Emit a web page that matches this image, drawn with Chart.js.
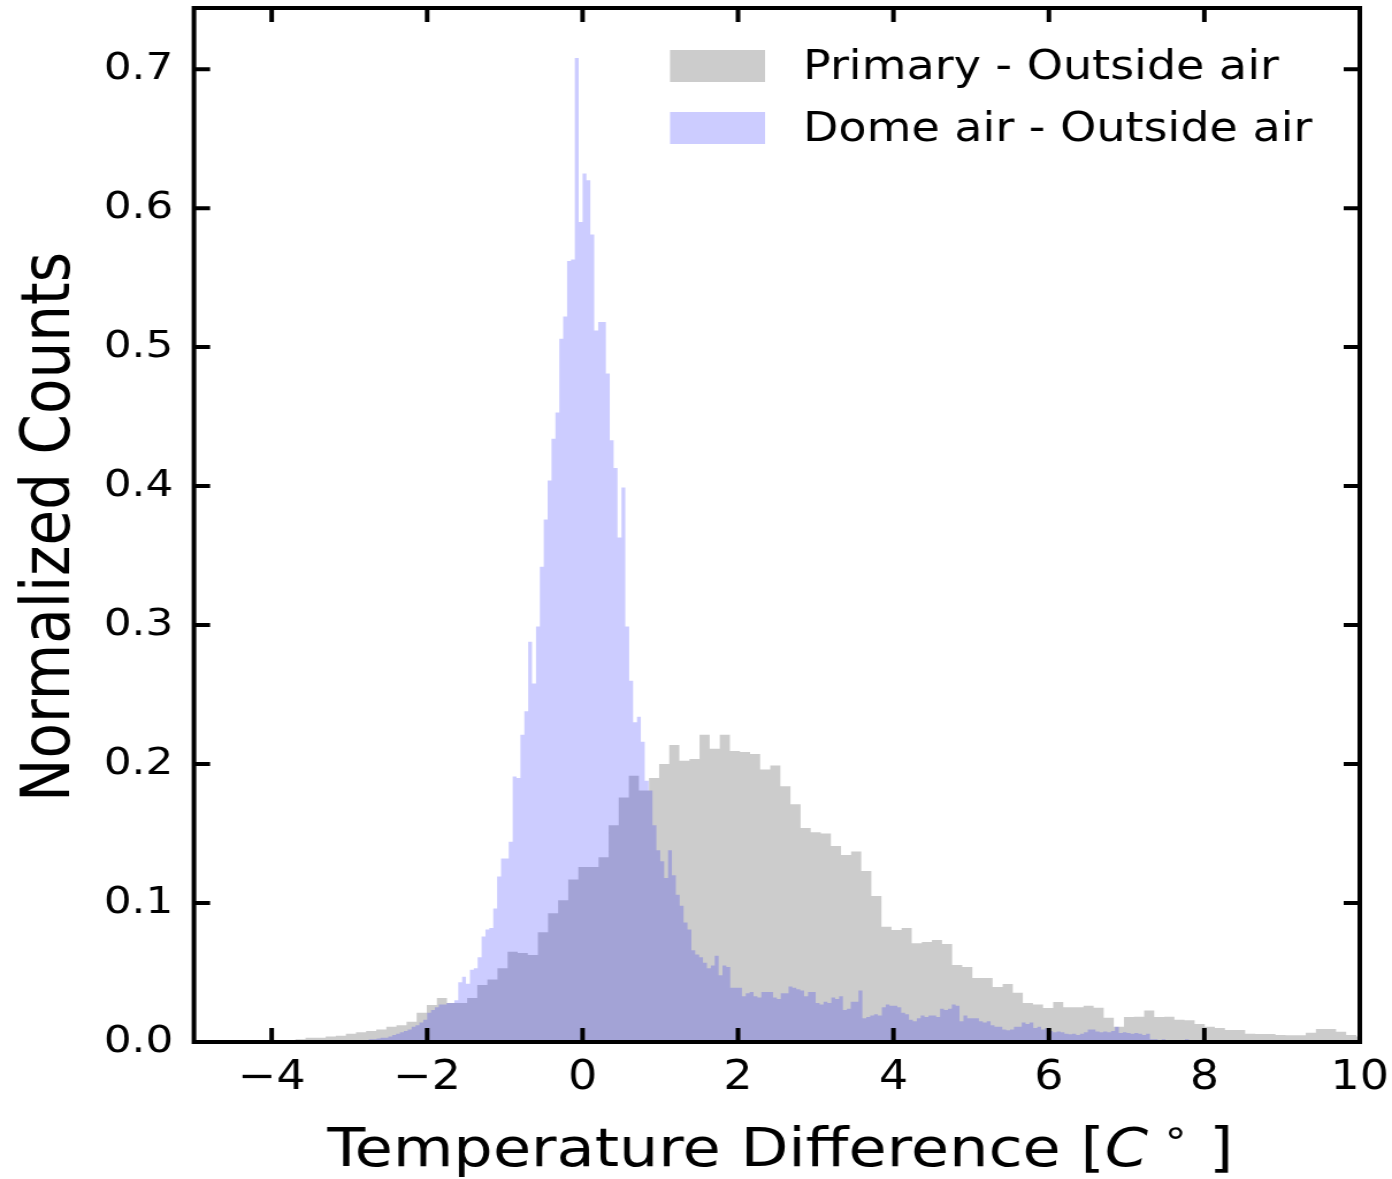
<!DOCTYPE html>
<html>
<head>
<meta charset="utf-8">
<title>Temperature difference histograms</title>
<script src="https://cdn.jsdelivr.net/npm/chart.js@4.4.1/dist/chart.umd.min.js"></script>
<style>
  html, body { margin: 0; padding: 0; background: #fff; overflow: hidden; }
  /* the source figure is stretched horizontally, so the canvas is too */
  #wrap { width: 1210px; height: 1179px; transform: scaleX(1.15041); transform-origin: 0 0; }
</style>
</head>
<body>
<div id="wrap"><canvas id="chart" width="1210" height="1179"></canvas></div>
<script>
// ── Data ──────────────────────────────────────────────────────────────────────
const seriesNames = ['Primary - Outside air', 'Dome air - Outside air'];

// Primary - Outside air: bins of 0.13 starting at -3.825
const GRAY_START = -3.825, GRAY_BIN = 0.13;
const grayCounts = [
  0.001, 0.002, 0.003, 0.003, 0.004, 0.0045, 0.006, 0.007, 0.008, 0.009,
  0.011, 0.012, 0.0146, 0.021, 0.0266, 0.0317, 0.028, 0.028, 0.0317, 0.041,
  0.045, 0.053, 0.065, 0.064, 0.0626, 0.079, 0.0926, 0.102, 0.117, 0.126,
  0.126, 0.133, 0.156, 0.176, 0.1916, 0.181, 0.19, 0.2, 0.2137, 0.2024,
  0.2036, 0.221, 0.211, 0.221, 0.2094, 0.2086, 0.2072, 0.196, 0.199, 0.184,
  0.171, 0.154, 0.151, 0.150, 0.141, 0.1345, 0.137, 0.123, 0.105, 0.083,
  0.0806, 0.082, 0.071, 0.072, 0.0734, 0.0705, 0.0554, 0.054, 0.046, 0.046,
  0.0396, 0.0417, 0.0355, 0.028, 0.027, 0.0245, 0.0288, 0.025, 0.025, 0.026,
  0.0247, 0.0175, 0.011, 0.018, 0.0182, 0.0226, 0.018, 0.0182, 0.016, 0.0156,
  0.013, 0.011, 0.010, 0.0086, 0.0086, 0.006, 0.0058, 0.0058, 0.005, 0.0048,
  0.0048, 0.0067, 0.0094, 0.0094, 0.0074, 0.005, 0.004,
];

// Dome air - Outside air: bins of 0.05 starting at -3.0
const BLUE_START = -3.0, BLUE_BIN = 0.05;
const blueCounts = [
  0.0005, 0.0008, 0.001, 0.001, 0.0015, 0.002, 0.002, 0.0025, 0.003, 0.003,
  0.004, 0.005, 0.006, 0.007, 0.008, 0.009, 0.011, 0.012, 0.014, 0.016,
  0.021, 0.023, 0.025, 0.027, 0.027, 0.028, 0.028, 0.030, 0.043, 0.047,
  0.042, 0.052, 0.053, 0.061, 0.076, 0.081, 0.082, 0.096, 0.119, 0.132,
  0.132, 0.144, 0.191, 0.19, 0.221, 0.238, 0.288, 0.258, 0.299, 0.342,
  0.376, 0.404, 0.434, 0.453, 0.506, 0.522, 0.562, 0.563, 0.708, 0.59,
  0.625, 0.62, 0.581, 0.512, 0.518, 0.518, 0.481, 0.433, 0.413, 0.363,
  0.399, 0.299, 0.26, 0.23, 0.234, 0.216, 0.188, 0.181, 0.156, 0.138,
  0.13, 0.118, 0.138, 0.12, 0.106, 0.098, 0.086, 0.081, 0.066, 0.063,
  0.061, 0.057, 0.053, 0.055, 0.062, 0.048, 0.055, 0.054, 0.039, 0.039,
  0.039, 0.033, 0.035, 0.036, 0.033, 0.032, 0.036, 0.036, 0.036, 0.032,
  0.031, 0.035, 0.035, 0.040, 0.039, 0.038, 0.037, 0.033, 0.036, 0.036,
  0.028, 0.027, 0.029, 0.028, 0.032, 0.031, 0.033, 0.023, 0.024, 0.029,
  0.029, 0.037, 0.017, 0.018, 0.019, 0.020, 0.019, 0.025, 0.027, 0.026,
  0.026, 0.025, 0.021, 0.020, 0.016, 0.015, 0.017, 0.019, 0.018, 0.019,
  0.019, 0.018, 0.024, 0.023, 0.024, 0.027, 0.026, 0.015, 0.019, 0.017,
  0.017, 0.017, 0.015, 0.014, 0.015, 0.012, 0.011, 0.011, 0.009, 0.0085,
  0.009, 0.011, 0.011, 0.014, 0.013, 0.014, 0.010, 0.011, 0.009, 0.010,
  0.008, 0.007, 0.0075, 0.007, 0.006, 0.0055, 0.006, 0.005, 0.006, 0.007,
  0.009, 0.009, 0.0075, 0.007, 0.0075, 0.007, 0.008, 0.011, 0.0065, 0.007,
  0.0065, 0.006, 0.0065, 0.006, 0.005, 0.006, 0.002, 0.002, 0.0015, 0.002,
  0.0015, 0.001, 0.0015, 0.001, 0.001, 0.002, 0.001, 0.0005, 0.0005, 0.0005,
];

const xTicks      = [-4, -2, 0, 2, 4, 6, 8, 10];
const xTickLabels = ['\u22124', '\u22122', '0', '2', '4', '6', '8', '10'];
const yTicks      = [0, 0.1, 0.2, 0.3, 0.4, 0.5, 0.6, 0.7];
const yTickLabels = ['0.0', '0.1', '0.2', '0.3', '0.4', '0.5', '0.6', '0.7'];

const GRAY = 'rgba(128,128,128,0.4)';
const BLUE = 'rgba(0,0,255,0.2)';
const FONT = 'DejaVu Sans';

// histogram bins -> stepped outline (left edge of each bin, then close at the right edge)
function toSteps(start, bin, counts) {
  const pts = counts.map((c, i) => ({ x: start + i * bin, y: c }));
  pts.push({ x: start + counts.length * bin, y: 0 });
  return pts;
}

// ── Frame, inward ticks, titles, legend ───────────────────────────────────────
const decor = {
  id: 'decor',
  afterDraw(chart) {
    const { ctx, chartArea: a, scales: { x, y } } = chart;
    const TICK = 14;
    ctx.save();
    ctx.strokeStyle = '#000';
    ctx.lineWidth = 4;
    ctx.beginPath();
    xTicks.forEach(v => {
      const px = x.getPixelForValue(v);
      ctx.moveTo(px, a.bottom); ctx.lineTo(px, a.bottom - TICK);
      ctx.moveTo(px, a.top);    ctx.lineTo(px, a.top + TICK);
    });
    yTicks.forEach(v => {
      const py = y.getPixelForValue(v);
      ctx.moveTo(a.left, py);  ctx.lineTo(a.left + TICK, py);
      ctx.moveTo(a.right, py); ctx.lineTo(a.right - TICK, py);
    });
    ctx.stroke();
    ctx.lineJoin = 'miter';
    ctx.strokeRect(a.left, a.top, a.right - a.left, a.bottom - a.top);

    // y title
    ctx.fillStyle = '#000';
    ctx.font = `58px "${FONT}"`;
    ctx.textAlign = 'center';
    ctx.textBaseline = 'alphabetic';
    ctx.save();
    ctx.translate(60, (a.top + a.bottom) / 2 + 2);
    ctx.rotate(-Math.PI / 2);
    ctx.fillText('Normalized Counts', 0, 0);
    ctx.restore();

    // x title with mathtext-like italic C and degree
    const parts = [
      { t: 'Temperature Difference [', f: `54px "${FONT}"`, dy: 0 },
      { t: 'C', f: `italic 54px "${FONT}"`, dy: 0 },
      { t: ' \u2218', f: `38px "${FONT}"`, dy: -21 },
      { t: ' ]', f: `54px "${FONT}"`, dy: 0 },
    ];
    ctx.textAlign = 'left';
    let total = 0;
    parts.forEach(p => { ctx.font = p.f; p.w = ctx.measureText(p.t).width; total += p.w; });
    let cx = (a.left + a.right) / 2 - total / 2 + 3;
    parts.forEach(p => { ctx.font = p.f; ctx.fillText(p.t, cx, 1166 + p.dy); cx += p.w; });

    // legend
    const items = [
      { label: seriesNames[0], color: GRAY, top: 50 },
      { label: seriesNames[1], color: BLUE, top: 112 },
    ];
    ctx.font = `40px "${FONT}"`;
    items.forEach(it => {
      ctx.fillStyle = it.color;
      ctx.fillRect(582.4, it.top, 82.6, 32);
      ctx.fillStyle = '#000';
      ctx.fillText(it.label, 698, it.top + 29);
    });
    ctx.restore();
  },
};

// drop the half-label padding Chart.js reserves at the ends of each axis
const noEndPadding = s => { s.paddingTop = 0; s.paddingBottom = 0; s.paddingLeft = 0; s.paddingRight = 0; };

// ── Chart ─────────────────────────────────────────────────────────────────────
const chart = new Chart(document.getElementById('chart'), {
  type: 'line',
  data: {
    datasets: [
      {
        label: seriesNames[0],
        data: toSteps(GRAY_START, GRAY_BIN, grayCounts),
        backgroundColor: GRAY,
        borderColor: 'rgba(0,0,0,0)',
        borderWidth: 0,
        fill: 'origin',
        stepped: true,
        pointRadius: 0,
        order: 2,
      },
      {
        label: seriesNames[1],
        data: toSteps(BLUE_START, BLUE_BIN, blueCounts),
        backgroundColor: BLUE,
        borderColor: 'rgba(0,0,0,0)',
        borderWidth: 0,
        fill: 'origin',
        stepped: true,
        pointRadius: 0,
        order: 1,
      },
    ],
  },
  options: {
    responsive: false,
    animation: false,
    layout: { padding: { top: 8, right: 28, left: 0, bottom: 0 } },
    plugins: { legend: { display: false }, tooltip: { enabled: false } },
    scales: {
      x: {
        type: 'linear',
        min: -5,
        max: 10,
        grid: { display: false },
        border: { display: false },
        afterBuildTicks: s => { s.ticks = xTicks.map(v => ({ value: v })); },
        afterFit: s => { s.height = 137; noEndPadding(s); },
        ticks: {
          color: '#000',
          font: { family: FONT, size: 40 },
          padding: 5,
          maxRotation: 0,
          autoSkip: false,
          callback: (v, i) => xTickLabels[i],
        },
      },
      y: {
        min: 0,
        max: 0.744,
        grid: { display: false },
        border: { display: false },
        afterBuildTicks: s => { s.ticks = yTicks.map(v => ({ value: v })); },
        afterFit: s => { s.width = 168.6; noEndPadding(s); },
        ticks: {
          color: '#000',
          font: { family: FONT, size: 38 },
          padding: 10,
          callback: (v, i) => yTickLabels[i],
        },
      },
    },
  },
  plugins: [decor],
});
</script>
</body>
</html>
